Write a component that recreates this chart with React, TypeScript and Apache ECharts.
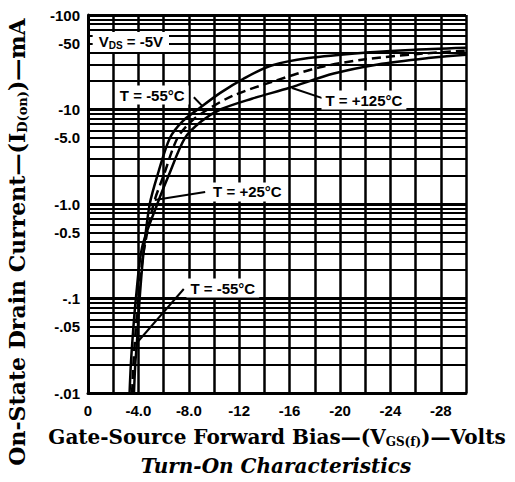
import React, { useEffect, useRef } from "react";
import * as echarts from "echarts";

// ---- axis tick labels ----
const xLabelValues = [0, -4, -8, -12, -16, -20, -24, -28];
const xLabelTexts = ["0", "-4.0", "-8.0", "-12", "-16", "-20", "-24", "-28"];
const yDecadeValues = [-100, -10, -1, -0.1, -0.01];
const yDecadeTexts = ["-100", "-10", "-1.0", "-.1", "-.01"];
const yHalfValues = [-50, -5, -0.5, -0.05];
const yHalfTexts = ["-50", "-5.0", "-0.5", "-.05"];
const gridDecades = [0.01, 0.1, 1, 10];
const gridSteps = [2, 3, 4, 5, 6, 7, 8, 9];

// ---- curves: V_GS (volts) and I_D(on) (mA) ----
const vgsM55 = [-3.65, -3.75, -3.88, -4.1, -4.4, -4.9, -5.6, -6.5, -7.5, -8.7, -10.5, -12.3, -14.5, -17.5, -22, -26, -30];
const idM55 = [-0.01, -0.02, -0.034, -0.1, -0.3, -1.0, -2.2, -5, -7.5, -10, -15, -21, -29, -35, -40, -43, -45];
const vgsP25 = [-3.5, -3.6, -3.75, -4.0, -4.4, -5.2, -6.0, -7.1, -8.2, -9.5, -11.5, -14.8, -18.4, -22, -26, -30];
const idP25 = [-0.01, -0.02, -0.04, -0.1, -0.3, -1.0, -2.0, -5, -7.5, -10, -14, -20, -28, -34, -38.5, -42];
const vgsP125 = [-3.3, -3.4, -3.55, -3.8, -4.3, -5.5, -6.4, -7.7, -9.0, -10.5, -13, -16, -19.5, -23, -27, -30];
const idP125 = [-0.01, -0.02, -0.04, -0.1, -0.35, -1.0, -2.0, -5, -7.5, -10, -13, -17, -24, -30, -35, -38];

// ---- annotations ----
const annotTexts = ["T = -55°C", "T = +125°C", "T = +25°C", "T = -55°C"];
const annotAt = [[-5.1, -14.2], [-21.9, -12.6], [-12.65, -1.34], [-10.7, -0.129]];
const pointerFrom = [[-8.4, -13.5], [-18.6, -13.2], [-9.3, -1.34], [-7.6, -0.126]];
const pointerTo = [[-9.1, -10.8], [-16.2, -16.9], [-5.3, -1.1], [-3.88, -0.034]];
const vdsAt = [-3.4, -51.8];

const SANS = "'Liberation Sans', Arial, sans-serif";
const SERIF = "'DejaVu Serif', 'Liberation Serif', serif";

const near = (a: number, b: number) => Math.abs(a - b) <= 1e-6 * Math.max(1e-6, Math.abs(b));
const pts = (vs: number[], is: number[]) => vs.map((v, i) => [v, Math.abs(is[i])]);

export default function App() {
  const ref = useRef<HTMLDivElement>(null);
  useEffect(() => {
    if (!ref.current) return;
    const chart = echarts.init(ref.current, undefined, { renderer: "svg" });

    const gridLines: any[] = [];
    yDecadeValues.forEach((v) => {
      gridLines.push({ yAxis: Math.abs(v), lineStyle: { color: "#000", width: 3, type: "solid" }, label: { show: false } });
    });
    gridDecades.forEach((d) => {
      gridSteps.forEach((s) => {
        const val = d * s;
        const hi = yHalfValues.findIndex((h) => near(Math.abs(h), val));
        gridLines.push({
          yAxis: val,
          lineStyle: { color: "#000", width: 2, type: "solid" },
          label: hi >= 0
            ? { show: true, position: "end", distance: 8, formatter: yHalfTexts[hi], color: "#000", fontFamily: SANS, fontWeight: "bold", fontSize: 15 }
            : { show: false },
        });
      });
    });

    const pointerLines = pointerFrom.map((f, i) => [
      { coord: [f[0], Math.abs(f[1])] },
      { coord: [pointerTo[i][0], Math.abs(pointerTo[i][1])] },
    ]);

    const labelBase = {
      show: true,
      position: "inside",
      backgroundColor: "#fff",
      padding: [2, 4],
      color: "#000",
      fontFamily: SANS,
      fontWeight: "bold",
      fontSize: 15,
    };
    const markPoints: any[] = annotTexts.map((t, i) => ({
      coord: [annotAt[i][0], Math.abs(annotAt[i][1])],
      symbol: "rect",
      symbolSize: [1, 1],
      itemStyle: { color: "rgba(0,0,0,0)" },
      label: { ...labelBase, formatter: t },
    }));
    markPoints.push({
      coord: [vdsAt[0], Math.abs(vdsAt[1])],
      symbol: "rect",
      symbolSize: [1, 1],
      itemStyle: { color: "rgba(0,0,0,0)" },
      label: {
        ...labelBase,
        padding: [1, 6],
        formatter: "{a|V}{s|DS}{a| = -5V}",
        rich: {
          a: { fontFamily: SANS, fontWeight: "bold", fontSize: 15, lineHeight: 18, color: "#000" },
          s: { fontFamily: SANS, fontWeight: "bold", fontSize: 10, lineHeight: 10, verticalAlign: "bottom", color: "#000" },
        },
      },
    });

    const lineSeries = (name: string, vs: number[], is: number[], dashed: boolean) => ({
      type: "line",
      name,
      data: pts(vs, is),
      smooth: 0.3,
      showSymbol: false,
      silent: true,
      z: 5,
      lineStyle: { color: "#000", width: 2.5, type: dashed ? [9, 5] : "solid" },
    });

    const option: any = {
      animation: false,
      backgroundColor: "#fff",
      grid: { left: 88, right: 49, top: 15, bottom: 89 },
      xAxis: {
        type: "value",
        min: -30,
        max: 0,
        interval: 2,
        inverse: true,
        axisLine: { show: true, onZero: false, lineStyle: { color: "#000", width: 3 } },
        axisTick: { show: false },
        splitLine: { show: true, lineStyle: { color: "#000", width: 2.5 } },
        axisLabel: {
          margin: 10,
          color: "#000",
          fontFamily: SANS,
          fontWeight: "bold",
          fontSize: 15,
          formatter: (v: number) => {
            const i = xLabelValues.findIndex((x) => Math.abs(x - v) < 1e-6);
            return i >= 0 ? xLabelTexts[i] : "";
          },
        },
      },
      yAxis: {
        type: "log",
        logBase: 10,
        min: 0.01,
        max: 100,
        axisLine: { show: true, onZero: false, lineStyle: { color: "#000", width: 3 } },
        axisTick: { show: false },
        splitLine: { show: false },
        axisLabel: {
          margin: 8,
          color: "#000",
          fontFamily: SANS,
          fontWeight: "bold",
          fontSize: 15,
          formatter: (v: number) => {
            const i = yDecadeValues.findIndex((y) => near(Math.abs(y), v));
            return i >= 0 ? yDecadeTexts[i] : "";
          },
        },
      },
      graphic: [
        {
          type: "text",
          x: 277,
          y: 437,
          style: {
            text: "{n|Gate-Source Forward Bias—(V}{s|GS(f)}{n|)—Volts}",
            align: "center",
            verticalAlign: "middle",
            rich: {
              n: { fontFamily: SERIF, fontSize: 20, lineHeight: 22, fill: "#000", fontWeight: "bold" },
              s: { fontFamily: SERIF, fontSize: 12, lineHeight: 12, fill: "#000", fontWeight: "bold", verticalAlign: "bottom" },
            },
          },
        },
        {
          type: "text",
          x: 17,
          y: 242,
          rotation: Math.PI / 2,
          style: {
            text: "{n|On-State Drain Current—(I}{s|D(on)}{n|)—mA}",
            align: "center",
            verticalAlign: "middle",
            rich: {
              n: { fontFamily: SERIF, fontSize: 22, lineHeight: 24, fill: "#000", fontWeight: "bold" },
              s: { fontFamily: SERIF, fontSize: 13, lineHeight: 12, fill: "#000", fontWeight: "bold", verticalAlign: "bottom" },
            },
          },
        },
        {
          type: "text",
          x: 276,
          y: 466,
          style: {
            text: "Turn-On Characteristics",
            align: "center",
            verticalAlign: "middle",
            fontFamily: SERIF,
            fontSize: 20,
            fontWeight: "bold",
            fontStyle: "italic",
            fill: "#000",
          },
        },
      ],
      series: [
        lineSeries("T = -55°C", vgsM55, idM55, false),
        lineSeries("T = +25°C", vgsP25, idP25, true),
        lineSeries("T = +125°C", vgsP125, idP125, false),
        {
          type: "line",
          data: [],
          silent: true,
          z: 2,
          markLine: {
            silent: true,
            symbol: ["none", "none"],
            animation: false,
            data: gridLines,
          },
        },
        {
          type: "line",
          data: [],
          silent: true,
          z: 6,
          markLine: {
            silent: true,
            symbol: ["none", "none"],
            animation: false,
            lineStyle: { color: "#000", width: 2, type: "solid" },
            label: { show: false },
            data: pointerLines,
          },
          markPoint: {
            silent: true,
            animation: false,
            data: markPoints,
          },
        },
      ],
    };
    chart.setOption(option);
    return () => chart.dispose();
  }, []);

  return (
    <div
      ref={ref}
      style={{ position: "fixed", left: 0, top: 0, width: 515, height: 482, background: "#fff" }}
    />
  );
}
